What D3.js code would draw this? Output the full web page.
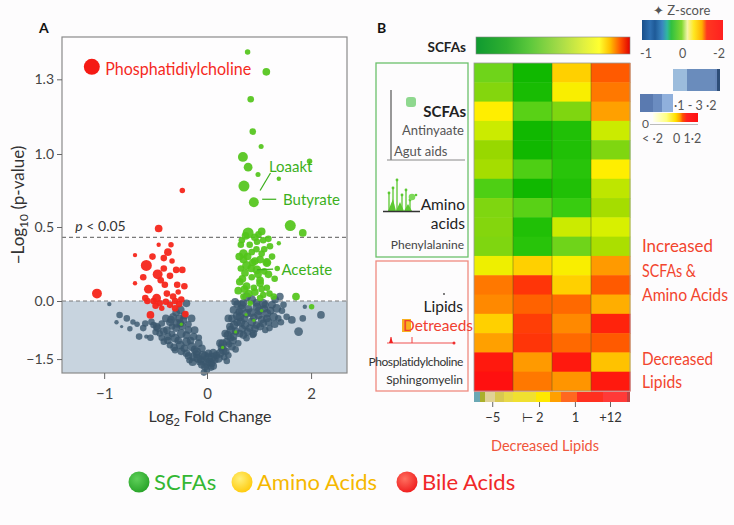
<!DOCTYPE html>
<html><head><meta charset="utf-8">
<script src="https://cdn.jsdelivr.net/npm/d3@7"></script>
<style>
html,body{margin:0;padding:0;background:#fdfcfd;}
svg{display:block;font-family:Lato,"Open Sans",sans-serif;}
</style></head><body>
<svg id="chart" width="734" height="525"></svg>
<script>
// ---------------- DATA ----------------
// volcano points: [log2 fold change, -log10 p, marker size]
const scfaPoints = [
 [0.78,1.41,2.5],[1.14,1.33,3.5],[0.84,1.22,3],[0.88,1.09,3],[1.04,1.03,2.3],[0.69,0.98,4.5],
 [0.79,0.91,4],[0.98,0.86,2.3],[1.38,0.83,2],[1.97,0.95,2.5],[0.71,0.78,5],[0.90,0.67,4.5],
 [1.60,0.51,5],[1.84,0.46,3.5],[0.79,0.46,5],[1.05,0.47,3.5],[0.92,0.43,3.5],[0.67,0.41,3],
 [1.08,0.41,3],[1.21,0.37,3],[1.38,0.39,2],[0.96,0.40,3],[0.86,0.33,3],[0.70,0.32,4],
 [1.02,0.28,3.5],[1.15,0.26,4],[0.76,0.24,4],[0.96,0.21,4],[1.18,0.18,3.5],[0.73,0.19,3.5],
 [0.86,0.16,3],[0.63,0.13,3.5],[1.02,0.14,3.5],[0.76,0.10,3.5],[1.15,0.09,3],[0.60,0.07,3.5],
 [0.92,0.06,3.5],[1.08,0.04,3],[1.28,0.03,3],[1.71,0.03,3.5],[0.70,0.03,3],[2.01,-0.15,2.5],
 [0.83,-0.06,2.5],[1.02,0.02,3],[0.88,0.26,3.5],[1.15,0.26,3],[1.02,0.12,3.5],[0.65,0.22,3],
 [0.70,0.28,3.5],[1.05,0.32,3],[0.82,0.38,3],[0.74,0.44,3.5],[0.99,0.45,3],[1.10,0.20,3],
 [0.90,0.09,3],[1.20,0.05,3],[0.62,0.30,3.5],[0.68,0.15,3.5],[0.80,0.05,3.5],[0.85,0.22,3.5],
 [0.95,0.35,3],[1.10,0.35,3],[1.25,0.30,3],[1.30,0.15,3],[0.78,0.30,3.5],[0.92,0.27,3.5],
 [1.05,0.08,3],[1.18,0.42,3],[0.65,0.38,3],[0.72,0.08,3.5],[0.98,0.18,3.5],[1.35,0.22,2.5],
 [0.75,-0.35,1.5],[0.55,-0.8,1.5],[0.9,-0.5,1.5],[0.3,-1.2,1.5],[-0.25,-0.6,1.5],[1.05,-0.25,1.5]
];
const bilePoints = [
 [-0.47,0.49,3.5],[-0.47,0.38,2],[-0.70,0.31,2],[-0.38,0.33,3.5],[-0.42,0.29,3],[-0.34,0.27,2.5],
 [-0.59,0.24,5],[-0.30,0.21,3],[-0.24,0.21,3],[-0.48,0.18,4.5],[-0.36,0.17,3],[-0.70,0.12,2],
 [-0.41,0.11,3],[-0.29,0.11,3],[-0.22,0.10,3],[-0.57,0.08,4],[-1.07,0.05,4.5],[-0.60,0.02,3],
 [-0.49,0.02,4],[-0.39,0.05,3],[-0.33,0.03,3],[-0.46,-0.06,3],[-0.36,-0.10,3],[-0.31,-0.19,3],
 [-0.55,-0.36,3.5],[-0.21,-0.34,3],[-0.44,-0.19,2.5],[-0.25,0.01,3],[-0.24,0.75,2.5],
 [-0.52,0.00,3],[-0.40,-0.02,3],[-0.28,0.06,2.5],[-0.45,0.14,3],[-0.31,0.00,3],
 [-0.62,0.16,3],[-0.53,0.30,3],[-0.42,0.22,3],[-0.35,0.38,2.5],[-0.58,0.00,3],[-0.27,-0.08,3],[-0.50,-0.12,3]
];
const highlightPoint = [-1.12,1.35,8];
const otherPoints = [
 [-0.95,-0.08,2],[-0.85,-0.36,3],[-0.78,-0.45,3],[-0.83,-0.66,1.5],[-0.72,-0.54,2.5],[-0.66,-0.92,3],
 [-0.59,-0.92,2],[-0.60,-0.58,3],[-0.54,-0.54,3],[-0.49,-0.66,3.5],[-0.44,-0.58,3],[-0.39,-0.75,3.5],
 [-0.46,-0.84,3],[-0.34,-0.66,3],[-0.29,-0.58,4],[-0.23,-0.49,3.5],[-0.26,-0.23,4],[-0.20,-0.06,3.5],
 [-0.33,-0.41,3.5],[-0.38,-0.92,3.5],[-0.31,-0.96,4],[-0.25,-0.84,4],[-0.18,-0.75,3.5],[-0.20,-1.05,4],
 [-0.26,-1.14,4],[-0.15,-1.18,4],[-0.20,-1.35,3.5],[-0.13,-1.44,4],[-0.10,-1.31,4],[-0.17,-1.53,3],
 [-0.31,-1.27,3],[-0.36,-1.14,3],[-0.42,-1.05,3],[-0.26,-0.58,3.5],[-0.15,-0.45,3.5],[-0.13,-0.92,3.5],
 [-0.08,-1.09,3.5],[-0.04,-1.40,4],[0.02,-1.48,4.5],[-0.02,-1.70,3.5],[-0.07,-1.57,3.5],[0.12,-1.35,4],
 [0.09,-1.61,3.5],[0.22,-1.48,4],[0.0,-1.78,3],[0.31,-1.27,4],[0.25,-1.09,3.5],[0.38,-1.05,3.5],
 [0.35,-0.84,3.5],[0.44,-0.66,3.5],[0.41,-0.45,3.5],[0.51,-0.23,3.5],[0.54,-0.02,3.5],[0.67,-0.10,4],
 [0.76,0.03,4],[0.86,0.01,4],[0.63,-0.41,4],[0.76,-0.32,4],[0.51,-0.92,3.5],[0.48,-1.18,3.5],
 [0.63,-0.84,3.5],[0.73,-0.62,4],[0.86,-0.54,4],[0.99,-0.36,4],[0.96,-0.15,4],[1.08,-0.06,4],
 [1.15,-0.32,4],[1.02,-0.66,3.5],[0.89,-0.84,3.5],[1.18,-0.54,3.5],[1.28,-0.41,4],[1.34,-0.19,4],
 [1.31,0.01,3.5],[1.37,-0.45,3],[0.76,-0.96,3],[0.60,-1.09,3],[0.41,-1.40,3],[1.12,-0.75,3],
 [1.44,-0.25,3],[1.53,-0.41,3],[1.63,-0.49,3.5],[1.76,-0.79,4],[1.88,-0.15,2],[2.19,-0.36,3.5],
 [1.47,-0.10,3],[1.40,0.03,3.5],[1.84,-0.45,3],
 [-0.40,-0.45,3.5],[-0.36,-0.55,3.5],[-0.30,-0.70,3.5],[-0.24,-0.65,3.5],[-0.20,-0.88,3.5],[-0.28,-1.02,3.5],
 [-0.22,-1.22,3.5],[-0.12,-1.25,3.5],[-0.16,-1.02,3.5],[-0.10,-1.38,3.5],[-0.06,-1.52,3.5],[-0.34,-0.85,3],
 [-0.50,-0.80,3],[-0.44,-0.95,3],[-0.22,-0.38,3.5],[-0.18,-0.60,3],
 [0.05,-1.58,4],[-0.02,-1.42,4],[0.15,-1.52,3.5],[0.08,-1.72,3],[-0.05,-1.65,3.5],[0.18,-1.40,3.5],
 [0.28,-1.20,3.5],[0.36,-1.30,3.5],[0.45,-0.95,3.5],[0.55,-0.78,3.5],[0.50,-1.02,3.5],[0.58,-0.55,3.5],
 [0.68,-0.72,3.5],[0.62,-0.28,3.5],[0.72,-0.45,3.5],[0.82,-0.70,3.5],[0.90,-0.42,3.5],[0.95,-0.62,3.5],
 [1.05,-0.48,3.5],[1.10,-0.20,3.5],[1.20,-0.70,3],[0.80,-0.20,3.5],[0.70,-0.05,3.5],[1.25,-0.10,3.5],
 [0.88,-0.88,3],[0.42,-1.12,3],[0.33,-1.45,3],
 [-0.48,-0.70,3.5],[-0.52,-0.62,3],[-0.42,-0.78,3.5],[-0.35,-0.48,3.5],[-0.30,-0.30,3.5],[-0.27,-0.45,3.5],
 [-0.32,-1.20,3.5],[-0.25,-1.30,3.5],[-0.18,-1.42,3.5],[-0.14,-1.58,3.5],[-0.12,-0.75,3.5],[-0.08,-0.95,3],
 [-0.05,-1.22,3.5],[-0.38,-1.02,3.5],[-0.62,-0.70,3],[-0.68,-0.60,2.5],[-0.75,-0.72,2.5],[-0.88,-0.55,2],
 [-0.55,-0.95,3],[0.00,-1.60,4],[0.10,-1.45,4],[-0.09,-1.48,4],[0.03,-1.35,3.5],[0.12,-1.68,3.5],[-0.03,-1.85,3],
 [0.25,-1.35,4],[0.30,-1.10,4],[0.40,-0.88,4],[0.46,-0.75,4],[0.52,-0.62,4],[0.58,-0.38,4],[0.65,-0.55,4],
 [0.70,-0.88,3.5],[0.78,-0.80,3.5],[0.85,-0.30,4],[0.92,-0.72,3.5],[1.00,-0.25,4],[1.08,-0.58,3.5],
 [1.15,-0.45,3.5],[1.22,-0.25,3.5],[1.30,-0.60,3.5],[1.42,-0.55,3],[0.55,-1.25,3],[0.38,-1.55,3],
 [0.48,-0.45,3.5],[0.66,-0.20,4],[0.58,-0.08,3.5],[0.95,-0.05,3.5],[1.12,-0.10,3.5]
];
const xTicks = [-1, 0, 2];
const yTicks = [1.3, 1.0, 0.5, 0.0, -1.5];
const pThreshold = 0.43;
const annLabels = ["Loaakt", "Butyrate", "Acetate"];
const annLabelPos = [[1.19,0.88],[1.46,0.65],[1.43,0.175]];
const annLines = [[[1.02,0.75],[1.22,0.87]],[[1.06,0.69],[1.33,0.69]],[[0.96,0.21],[1.27,0.215]]];
const highlightLabel = "Phosphatidiylcholine";
const highlightLabelPos = [-0.99, 1.318];

// heatmap z-scores (17 metabolites x 4 groups)
const heatGroups = ["G1","G2","G3","G4"];
const heatValues = [
 [-1.0,-2.0,0.7,1.6],
 [-0.75,-1.9,0.3,1.4],
 [0.35,-1.2,-0.8,1.05],
 [-0.1,-2.0,-1.8,-0.1],
 [-0.5,-2.0,-1.8,-0.8],
 [-0.4,-1.3,-1.7,0.35],
 [-1.3,-2.0,-1.8,-0.2],
 [-0.8,-1.2,-1.5,-0.4],
 [-0.75,-1.8,-0.1,0.0],
 [-0.8,-1.7,-1.0,-0.35],
 [0.2,0.7,0.3,1.1],
 [1.4,1.8,0.7,1.6],
 [1.25,1.55,1.5,0.95],
 [0.7,1.75,1.25,1.9],
 [1.05,1.8,1.5,1.6],
 [1.95,1.1,1.95,0.8],
 [2.0,1.4,1.15,1.95]
];
const cbTickLabels = ["−5","⊢ 2","1","+12"];
const cbTickPos = [0.12,0.42,0.65,0.875];
const zTickLabels = ["-1","0","-2"];
const legendItems = ["SCFAs","Amino Acids","Bile Acids"];
const sideNotes = ["Increased","SCFAs &","Amino Acids","Decreased","Lipids"];

// ---------------- DRAW ----------------
const svg = d3.select("#chart");
svg.append("rect").attr("width",734).attr("height",525).attr("fill","#fdfcfd");
const defs = svg.append("defs");
function grad(id, stops, step){
  const g = defs.append("linearGradient").attr("id",id).attr("x1","0%").attr("x2","100%").attr("y1","0%").attr("y2","0%");
  stops.forEach((s,i)=>{
    g.append("stop").attr("offset",s[0]).attr("stop-color",s[1]);
    if(step && i<stops.length-1) g.append("stop").attr("offset",stops[i+1][0]).attr("stop-color",s[1]);
  });
}

// ===== Panel A: volcano =====
const A = {l:62,t:37,r:347,b:373};
const x = d3.scaleLinear().domain([-1.41,0,2.69]).range([A.l,207,A.r]);
const y = d3.scaleLinear().domain([-1.86,0,0.5,1.0,1.47]).range([A.b,301,227,154,A.t]);
const rs = d3.scaleLinear().domain([0,8]).range([0,8.8]);

svg.append("text").attr("x",39).attr("y",33).attr("font-weight","bold").attr("font-size",14).attr("fill","#111").text("A");
svg.append("rect").attr("x",A.l).attr("y",A.t).attr("width",A.r-A.l).attr("height",A.b-A.t).attr("fill","#fefdfe");
svg.append("rect").attr("x",A.l).attr("y",y(0)).attr("width",A.r-A.l).attr("height",A.b-y(0)).attr("fill","#c8d4df");
[0,pThreshold].forEach(v=>{
  svg.append("line").attr("x1",A.l).attr("x2",A.r).attr("y1",y(v)).attr("y2",y(v))
    .attr("stroke","#7a7a7a").attr("stroke-width",1.2).attr("stroke-dasharray","4,3");
});
const gp = svg.append("g");
gp.selectAll("circle.o").data(otherPoints).join("circle").attr("class","o")
  .attr("cx",d=>x(d[0])).attr("cy",d=>y(d[1])).attr("r",d=>rs(d[2]))
  .attr("fill","#3a566d").attr("fill-opacity",0.8);
gp.selectAll("circle.b").data(bilePoints).join("circle").attr("class","b")
  .attr("cx",d=>x(d[0])).attr("cy",d=>y(d[1])).attr("r",d=>rs(d[2]))
  .attr("fill","#f5261b").attr("fill-opacity",0.95);
gp.selectAll("circle.s").data(scfaPoints).join("circle").attr("class","s")
  .attr("cx",d=>x(d[0])).attr("cy",d=>y(d[1])).attr("r",d=>rs(d[2]))
  .attr("fill","#52c41a").attr("fill-opacity",0.92);
gp.append("circle").attr("cx",x(highlightPoint[0])).attr("cy",y(highlightPoint[1])).attr("r",highlightPoint[2]).attr("fill","#f51a14");
svg.append("text").attr("x",x(highlightLabelPos[0])).attr("y",y(highlightLabelPos[1]))
  .attr("font-size",16.5).attr("fill","#f52a1e").attr("textLength",146).attr("lengthAdjust","spacingAndGlyphs").text(highlightLabel);
annLines.forEach(l=>{
  svg.append("line").attr("x1",x(l[0][0])).attr("y1",y(l[0][1])).attr("x2",x(l[1][0])).attr("y2",y(l[1][1]))
   .attr("stroke","#3aae1a").attr("stroke-width",1.2);
});
annLabels.forEach((t,i)=>{
  svg.append("text").attr("x",x(annLabelPos[i][0])).attr("y",y(annLabelPos[i][1]))
   .attr("font-size",15).attr("fill","#3cb01c").text(t);
});
svg.append("text").attr("x",x(-1.28)).attr("y",y(0.47)).attr("font-size",14).attr("fill","#333")
  .html('<tspan font-style="italic">p</tspan> &lt; 0.05');
svg.append("rect").attr("x",A.l).attr("y",A.t).attr("width",A.r-A.l).attr("height",A.b-A.t).attr("fill","none").attr("stroke","#8a8a8a").attr("stroke-width",1.2);

const yAx = svg.append("g").attr("transform",`translate(${A.l},0)`)
  .call(d3.axisLeft(y).tickValues(yTicks).tickFormat(d3.format(".1f")).tickSize(5));
yAx.select(".domain").remove();
yAx.selectAll("text").attr("font-size",14).attr("fill","#444").attr("font-family","Lato");
yAx.selectAll("line").attr("stroke","#666");
const xAx = svg.append("g").attr("transform",`translate(0,${A.b})`)
  .call(d3.axisBottom(x).tickValues(xTicks).tickFormat(d3.format("d")).tickSize(6));
xAx.select(".domain").remove();
xAx.selectAll("text").attr("font-size",15).attr("fill","#444").attr("font-family","Lato").attr("dy","1.1em");
xAx.selectAll("line").attr("stroke","#666");
svg.append("text").attr("x",210).attr("y",422).attr("text-anchor","middle").attr("font-size",16).attr("fill","#333")
  .html('Log<tspan font-size="11" dy="4">2</tspan><tspan dy="-4"> Fold Change</tspan>');
svg.append("text").attr("transform","translate(24,205) rotate(-90)").attr("text-anchor","middle").attr("font-size",17).attr("fill","#333")
  .html('−Log<tspan font-size="12" dy="4">10</tspan><tspan dy="-4"> (p-value)</tspan>');

// ===== Panel B: heatmap =====
svg.append("text").attr("x",377).attr("y",33).attr("font-weight","bold").attr("font-size",14).attr("fill","#111").text("B");
const H = {l:474,r:630,t:63,b:391};
const hx = d3.scaleBand().domain(heatGroups).range([H.l,H.r]);
const hy = d3.scaleBand().domain(d3.range(heatValues.length)).range([H.t,H.b]);
const heatColor = d3.scaleLinear()
  .domain([-2,-1.5,-1,-0.5,0,0.35,0.7,1.05,1.4,1.6,2])
  .range(["#10b800","#38cc10","#6fd41a","#98d800","#d8f000","#ffee00","#ffd000","#ffa000","#ff7800","#ff5a00","#ff1010"]);
const cells = [];
heatValues.forEach((row,i)=>row.forEach((v,j)=>cells.push({i,j,v})));
svg.append("g").selectAll("rect").data(cells).join("rect")
  .attr("x",d=>hx(heatGroups[d.j])).attr("y",d=>hy(d.i)).attr("width",hx.bandwidth()+0.5).attr("height",hy.bandwidth()+0.5)
  .attr("fill",d=>heatColor(d.v));
heatGroups.slice(1).forEach(g=>{
  svg.append("line").attr("x1",hx(g)).attr("x2",hx(g)).attr("y1",H.t).attr("y2",H.b).attr("stroke","#4a5a20").attr("stroke-opacity",0.45).attr("stroke-width",1);
});
svg.append("rect").attr("x",H.l).attr("y",H.t).attr("width",H.r-H.l).attr("height",H.b-H.t).attr("fill","none").attr("stroke","#999").attr("stroke-width",0.8);

grad("gScfa",[[0,"#0f9a30"],[0.2,"#30b030"],[0.35,"#5cc83c"],[0.55,"#a8dc48"],[0.7,"#e0f040"],[0.8,"#ffff30"],[0.87,"#ffc000"],[0.94,"#ff5000"],[1,"#e00000"]]);
svg.append("rect").attr("x",476).attr("y",37).attr("width",154).attr("height",17).attr("fill","url(#gScfa)").attr("stroke","#888").attr("stroke-width",0.6);
svg.append("text").attr("x",466).attr("y",52).attr("text-anchor","end").attr("font-weight","bold").attr("font-size",13.5).attr("fill","#222").text("SCFAs");

grad("gCb",[[0,"#6aa8b4"],[0.04,"#aab02c"],[0.07,"#e0d296"],[0.135,"#d8c850"],[0.19,"#e8d848"],[0.25,"#f0e030"],[0.40,"#ffe800"],[0.49,"#ffa000"],[0.56,"#ff6820"],[0.66,"#ff3020"],[0.83,"#ff3a38"],[0.98,"#c04040"],[1,"#c04040"]],true);
svg.append("rect").attr("x",H.l).attr("y",392).attr("width",H.r-H.l).attr("height",10).attr("fill","url(#gCb)");
const cbx = d3.scaleLinear().domain([0,1]).range([H.l,H.r]);
cbTickPos.forEach((p,i)=>{
  svg.append("line").attr("x1",cbx(p)).attr("x2",cbx(p)).attr("y1",402).attr("y2",407).attr("stroke","#666");
  svg.append("text").attr("x",cbx(p)+(i===1?-7:0)).attr("y",422).attr("text-anchor","middle").attr("font-size",13).attr("fill","#333").text(cbTickLabels[i]);
});
svg.append("text").attr("x",545).attr("y",451).attr("text-anchor","middle").attr("font-size",14.5).attr("fill","#f0553a").text("Decreased Lipids");

// right annotations
const sideY = [252,277,301,365,388];
const sideW = [71,54,86,71,40];
sideNotes.forEach((t,i)=>svg.append("text").attr("x",642).attr("y",sideY[i]).attr("font-size",16.5).attr("fill","#f2452e")
  .attr("textLength",sideW[i]).attr("lengthAdjust","spacingAndGlyphs").text(t));

// Z-score legend
svg.append("text").attr("x",653).attr("y",15).attr("font-size",13).attr("fill","#555").text("✦ Z-score");
grad("gZ",[[0,"#1a4f8a"],[0.1,"#2e6fb0"],[0.16,"#1e5a98"],[0.25,"#3a86c0"],[0.31,"#30b8a0"],[0.36,"#30c040"],[0.49,"#80d830"],[0.56,"#f4f4a8"],[0.64,"#ffe820"],[0.74,"#ffb000"],[0.80,"#ff3820"],[1,"#ff2020"]]);
svg.append("rect").attr("x",642).attr("y",20).attr("width",81).attr("height",20).attr("fill","url(#gZ)");
const zx = d3.scaleLinear().domain([0,2]).range([646,719]);
zTickLabels.forEach((t,i)=>svg.append("text").attr("x",zx(i)).attr("y",58).attr("text-anchor","middle").attr("font-size",12.5).attr("fill","#555").text(t));
grad("gB1",[[0,"#9cbcdc"],[0.25,"#9cbcdc"],[0.3,"#6a8cbc"],[0.9,"#6686b8"],[0.93,"#2e4e78"],[1,"#4a6a98"]],true);
svg.append("rect").attr("x",673).attr("y",69).attr("width",47).attr("height",22).attr("fill","url(#gB1)");
grad("gB2",[[0,"#5a7ab0"],[0.4,"#6b8cc0"],[0.68,"#90b0dc"],[1,"#a0c0e0"]],true);
svg.append("rect").attr("x",640).attr("y",94).attr("width",33).attr("height",18).attr("fill","url(#gB2)");
svg.append("text").attr("x",674).attr("y",110).attr("font-size",12.5).attr("fill","#555").text("·1 - 3 ·2");
grad("gYR",[[0,"#fffff0"],[0.3,"#ffff80"],[0.5,"#ffe000"],[0.6,"#ffa000"],[0.66,"#ff5000"],[0.75,"#ff2020"],[1,"#ff1010"]]);
svg.append("rect").attr("x",653).attr("y",113).attr("width",45).attr("height",9).attr("fill","url(#gYR)");
svg.append("line").attr("x1",650).attr("x2",698).attr("y1",124.5).attr("y2",124.5).attr("stroke","#bbb");
svg.append("text").attr("x",642).attr("y",128).attr("font-size",12).attr("fill","#555").text("0");
svg.append("text").attr("x",642).attr("y",143).attr("font-size",12.5).attr("fill","#555").text("< ·2");
svg.append("text").attr("x",673).attr("y",143).attr("font-size",12.5).attr("fill","#555").text("0 1·2");

// left class boxes
svg.append("rect").attr("x",376).attr("y",63).attr("width",92).attr("height",194).attr("fill","none").attr("stroke","#6cc06c").attr("stroke-width",1.3);
svg.append("rect").attr("x",376).attr("y",261).attr("width",92).attr("height",130).attr("fill","none").attr("stroke","#f08a80").attr("stroke-width",1.3);
svg.append("line").attr("x1",391).attr("x2",391).attr("y1",90).attr("y2",160).attr("stroke","#555").attr("stroke-width",1.2);
svg.append("line").attr("x1",387).attr("x2",465).attr("y1",160).attr("y2",160).attr("stroke","#888").attr("stroke-width",1);
svg.append("rect").attr("x",406).attr("y",97).attr("width",10).attr("height",10).attr("rx",3).attr("fill","#8fd88f");
svg.append("text").attr("x",466).attr("y",117).attr("text-anchor","end").attr("font-weight","bold").attr("font-size",15).attr("fill","#222").text("SCFAs");
svg.append("text").attr("x",464).attr("y",135).attr("text-anchor","end").attr("font-size",13).attr("fill","#555").text("Antinyaate");
svg.append("text").attr("x",394).attr("y",156).attr("font-size",13).attr("fill","#555").text("Agut aids");
const aminoSpikes = [[5,18],[9,23],[13,31],[18,16],[22,21],[26,11]];
const ai = svg.append("g").attr("transform","translate(384,211)");
ai.append("path").attr("d","M4,0 L9,-12 L12,0 L16,-9 L20,0 L24,-7 L28,0 Z").attr("fill","#5cc832");
aminoSpikes.forEach(s=>{
  ai.append("line").attr("x1",s[0]).attr("x2",s[0]).attr("y1",0).attr("y2",-s[1]).attr("stroke","#5cc832").attr("stroke-width",1.3);
  ai.append("circle").attr("cx",s[0]).attr("cy",-s[1]).attr("r",1.4).attr("fill","#5cc832");
});
ai.append("circle").attr("cx",28).attr("cy",-14).attr("r",3.3).attr("fill","#7ed85a");
ai.append("circle").attr("cx",32).attr("cy",-16).attr("r",1.3).attr("fill","#5cc832");
ai.append("line").attr("x1",-1).attr("x2",36).attr("y1",0.5).attr("y2",0.5).attr("stroke","#333").attr("stroke-width",1.5);
svg.append("text").attr("x",465).attr("y",210).attr("text-anchor","end").attr("font-size",15.5).attr("fill","#222").text("Amino");
svg.append("text").attr("x",465).attr("y",229).attr("text-anchor","end").attr("font-size",15.5).attr("fill","#222").text("acids");
svg.append("text").attr("x",464).attr("y",249).attr("text-anchor","end").attr("font-size",12).attr("fill","#444").text("Phenylalanine");
svg.append("circle").attr("cx",444).attr("cy",294).attr("r",0.9).attr("fill","#444");
svg.append("text").attr("x",463).attr("y",312).attr("text-anchor","end").attr("font-size",15.5).attr("fill","#222").text("Lipids");
svg.append("rect").attr("x",402).attr("y",319).attr("width",9).attr("height",13).attr("fill","#f8b020");
svg.append("text").attr("x",403).attr("y",331).attr("font-size",15).attr("fill","#f04030").attr("textLength",70).attr("lengthAdjust","spacingAndGlyphs").text("Detreaeds");
svg.append("line").attr("x1",387).attr("x2",453).attr("y1",343).attr("y2",343).attr("stroke","#f05050").attr("stroke-width",1.2);
svg.append("circle").attr("cx",454).attr("cy",343).attr("r",1.5).attr("fill","#f03030");
svg.append("path").attr("d","M389,343 L391,337 L393,343 Z").attr("fill","#f02020");
svg.append("line").attr("x1",391).attr("x2",391).attr("y1",337).attr("y2",343).attr("stroke","#f02020");
svg.append("line").attr("x1",412).attr("x2",412).attr("y1",337).attr("y2",343).attr("stroke","#f04040");
svg.append("text").attr("x",463).attr("y",366).attr("text-anchor","end").attr("font-size",12).attr("fill","#333").attr("letter-spacing","-0.4").text("Phosplatidylcholine");
svg.append("text").attr("x",463).attr("y",384).attr("text-anchor","end").attr("font-size",12).attr("fill","#333").text("Sphingomyelin");

// bottom legend
const legColors = [["#2aa52a","#5fd05a","#33b733"],["#ffcc10","#fff07a","#f5b800"],["#f02020","#ff7060","#f02828"]];
legColors.forEach((c,i)=>{
  const g = defs.append("radialGradient").attr("id","lg"+i).attr("cx","40%").attr("cy","35%").attr("r","65%");
  g.append("stop").attr("offset","0%").attr("stop-color",c[1]);
  g.append("stop").attr("offset","100%").attr("stop-color",c[0]);
});
const legX = [139,242,407];
legendItems.forEach((t,i)=>{
  svg.append("circle").attr("cx",legX[i]).attr("cy",482).attr("r",10.5).attr("fill",`url(#lg${i})`);
  svg.append("text").attr("x",legX[i]+15).attr("y",490).attr("font-size",22).attr("fill",legColors[i][2]).text(t);
});
</script>
</body></html>
